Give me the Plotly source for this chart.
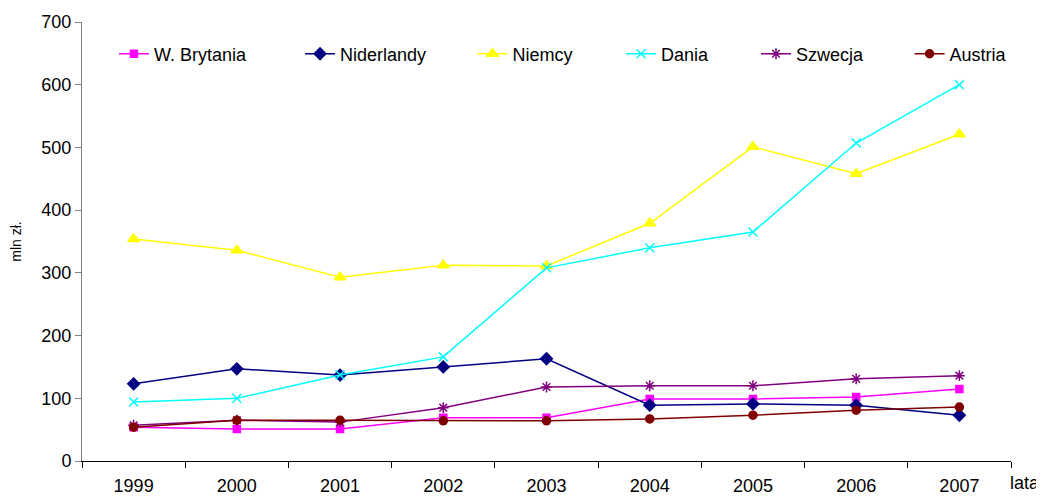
import plotly.graph_objects as go

years = ["1999", "2000", "2001", "2002", "2003", "2004", "2005", "2006", "2007"]
w_brytania = [54, 51, 51, 69, 69, 99, 99, 102, 115]
niderlandy = [123, 147, 137, 150, 163, 89, 91, 89, 73]
niemcy = [354, 336, 293, 312, 311, 379, 501, 458, 521]
dania = [94, 100, 137, 166, 308, 340, 365, 507, 600]
szwecja = [57, 65, 62, 85, 118, 120, 120, 131, 136]
austria = [54, 65, 65, 64, 64, 67, 73, 81, 86]

series = [
    ("W. Brytania", w_brytania, "#FF00FF", "square", 7),
    ("Niderlandy", niderlandy, "#000080", "diamond", 9),
    ("Niemcy", niemcy, "#FFFF00", "triangle-up", 10),
    ("Dania", dania, "#00FFFF", "x-thin-open", 9),
    ("Szwecja", szwecja, "#800080", "asterisk-open", 9),
    ("Austria", austria, "#800000", "circle", 8),
]
legend_x = [0.0344, 0.2347, 0.4203, 0.5802, 0.7255, 0.8908]

font = dict(family="Liberation Sans, Arial, sans-serif", size=18, color="#000000")

fig = go.Figure()
legends = {}
for i, (name, vals, color, sym, size) in enumerate(series):
    lid = "legend" if i == 0 else f"legend{i + 1}"
    fig.add_trace(go.Scatter(
        x=years, y=vals, name=name, mode="lines+markers",
        line=dict(color=color, width=1.5),
        marker=dict(symbol=sym, size=size, color=color,
                    line=dict(color=color, width=1.5)),
        legend=lid,
    ))
    legends[lid] = dict(orientation="h", x=legend_x[i], y=0.927,
                        xanchor="left", yanchor="middle",
                        font=font, bgcolor="rgba(0,0,0,0)")

# page body has an 8px default margin, so the figure is sized to fit the window
fig.update_layout(
    width=1036, height=488,
    margin=dict(l=74, r=33, t=14, b=35, autoexpand=False),
    paper_bgcolor="white", plot_bgcolor="white",
    font=font,
    showlegend=True,
    xaxis=dict(type="category", showgrid=False, showline=True, linecolor="#000000",
               linewidth=1, ticks="outside", ticklen=6, tickcolor="#000000",
               tickson="boundaries", range=[-0.5, 8.5], zeroline=False,
               ticklabelstandoff=8),
    yaxis=dict(range=[0, 700], dtick=100, showgrid=False, showline=True,
               linecolor="#808080", linewidth=1, ticks="outside", ticklen=6,
               tickcolor="#808080", zeroline=False,
               title=dict(text="mln zł.", font=dict(size=14), standoff=16)),
    annotations=[dict(text="lata", xref="paper", yref="paper", x=1.0, y=0,
                      xanchor="left", yanchor="top", yshift=-11, xshift=-2,
                      borderpad=0, showarrow=False, font=dict(size=18))],
    **legends,
)

fig.write_html("out.html")
